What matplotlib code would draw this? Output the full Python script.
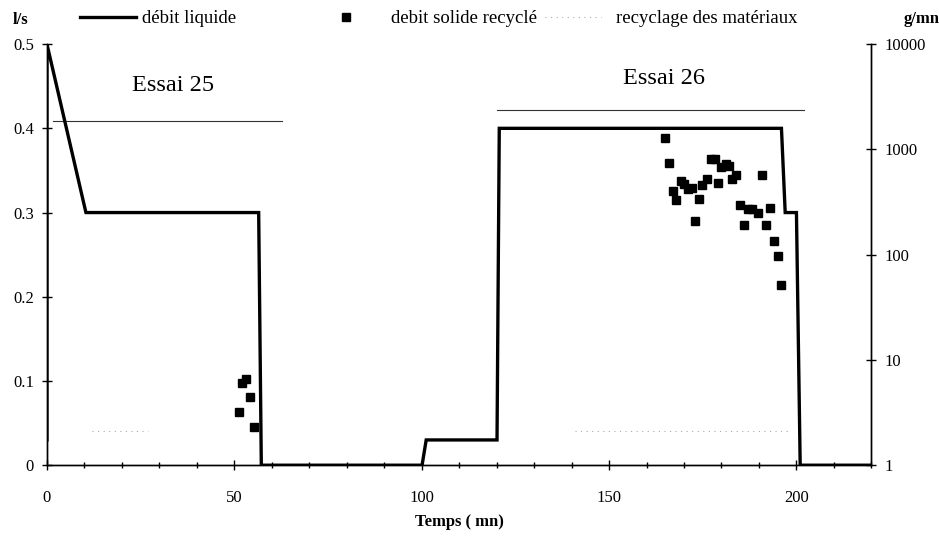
import matplotlib.pyplot as plt
from matplotlib.ticker import FixedLocator, NullLocator

plt.rcParams['font.family'] = ['Liberation Serif', 'DejaVu Serif']

# débit liquide (l/s) - step-like hydrograph
t_liq = [0, 0, 10.4, 56.5, 57.2, 100.1, 101.2, 120.1, 120.7, 196, 197, 200, 201, 220]
q_liq = [0.03, 0.5, 0.3, 0.3, 0, 0, 0.03, 0.03, 0.4, 0.4, 0.3, 0.3, 0, 0]

# debit solide recyclé (g/mn), essai 25 then essai 26
t_sol = [51.2, 52.0, 53.2, 54.3, 55.2,
         165.0, 166.0, 167.1, 167.9, 169.1, 170.0, 171.1, 172.2, 172.9, 174.0,
         174.9, 176.0, 177.1, 178.2, 179.1, 179.9, 181.1, 182.0, 182.9, 184.0,
         184.9, 186.0, 187.1, 188.2, 189.8, 190.9, 191.9, 192.9, 194.0, 195.0, 195.9]
q_sol = [3.2, 6.0, 6.6, 4.4, 2.3,
         1279, 750, 403, 328, 501, 466, 418, 427, 208, 335,
         456, 520, 807, 819, 484, 687, 734, 697, 520, 571,
         296, 190, 274, 269, 251, 571, 190, 277, 134, 97, 51]

# recyclage des matériaux (g/mn), faint trace
t_rec1 = [12, 27]
t_rec2 = [141, 198]
q_rec = [2.1, 2.1]

# durée des essais
essai_names = ['Essai 25', 'Essai 26']
essai_start = [1.6, 120.2]
essai_end = [62.7, 202]
essai_level = [0.409, 0.422]
essai_text_x = [33.6, 164.7]
essai_text_y = [0.451, 0.459]

fig = plt.figure(figsize=(9.39, 5.38), dpi=100)
ax = fig.add_axes([0.050, 0.1353, 0.878, 0.7827])
ax2 = ax.twinx()

l_liq, = ax.plot(t_liq, q_liq, color='black', lw=2.4, solid_joinstyle='miter',
                 label='débit liquide', zorder=3)
for s, e, lv in zip(essai_start, essai_end, essai_level):
    ax.plot([s, e], [lv, lv], color='#333333', lw=0.8)
for name, x, y in zip(essai_names, essai_text_x, essai_text_y):
    ax.text(x, y, name, fontsize=17.5, ha='center', va='center')

l_sol, = ax2.plot(t_sol, q_sol, ls='none', marker='s', ms=5.2, color='black',
                  label='debit solide recyclé')
l_rec, = ax2.plot(t_rec1, q_rec, ls=(0, (1, 4)), color='#aaaaaa', lw=0.8,
                  label='recyclage des matériaux')
ax2.plot(t_rec2, q_rec, ls=(0, (1, 4)), color='#aaaaaa', lw=0.8)

ax.set_xlim(0, 220)
ax.set_ylim(0, 0.5)
ax2.set_yscale('log')
ax2.set_ylim(1, 10000)

ax.set_xticks([0, 50, 100, 150, 200])
ax.xaxis.set_minor_locator(FixedLocator(range(0, 221, 10)))
ax.set_yticks([0, 0.1, 0.2, 0.3, 0.4, 0.5])
ax.set_yticklabels(['0', '0.1', '0.2', '0.3', '0.4', '0.5'])
ax2.set_yticks([1, 10, 100, 1000, 10000])
ax2.set_yticklabels(['1', '10', '100', '1000', '10000'])
ax2.yaxis.set_minor_locator(NullLocator())

ax.tick_params(axis='x', which='major', direction='inout', length=7, width=1,
               labelsize=12, pad=14)
ax.tick_params(axis='x', which='minor', direction='inout', length=4, width=1)
ax.tick_params(axis='y', direction='inout', length=7, width=1, labelsize=12, pad=6)
ax2.tick_params(axis='y', direction='inout', length=7, width=1, labelsize=12, pad=6)

for a in (ax, ax2):
    a.spines['top'].set_visible(False)
    for sp in a.spines.values():
        sp.set_linewidth(1.0)

ax.set_xlabel('Temps ( mn)', fontsize=12, fontweight='bold', labelpad=6)
fig.text(0.013, 0.963, 'l/s', fontsize=12, fontweight='bold', ha='left', va='center')
fig.text(0.962, 0.965, 'g/mn', fontsize=12, fontweight='bold', ha='left', va='center')

# one legend per entry, placed like the original header
leg_kw = dict(loc='center left', frameon=False, fontsize=13.5, borderpad=0,
              borderaxespad=0)
leg1 = fig.legend([l_liq], ['débit liquide'], bbox_to_anchor=(0.085, 0.965),
                  handlelength=3.0, handletextpad=0.3, **leg_kw)
leg2 = fig.legend([l_sol], ['debit solide recyclé'], bbox_to_anchor=(0.358, 0.965),
                  handlelength=1.0, handletextpad=1.9, **leg_kw)
leg3 = fig.legend([l_rec], ['recyclage des matériaux'], bbox_to_anchor=(0.580, 0.965),
                  handlelength=3.0, handletextpad=0.8, **leg_kw)

fig.savefig('out.png', dpi=100)
